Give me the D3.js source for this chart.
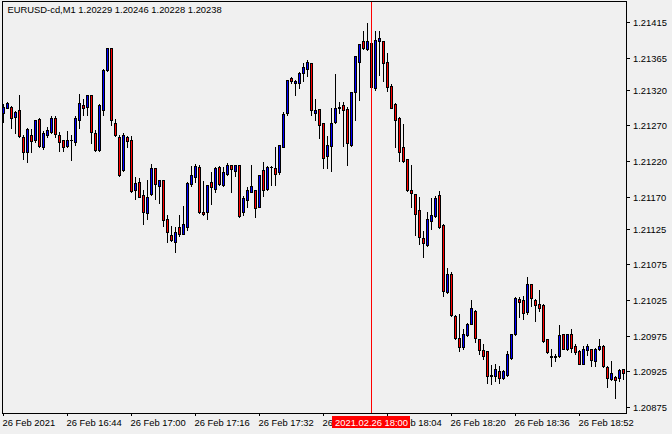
<!DOCTYPE html>
<html>
<head>
<meta charset="utf-8">
<script src="https://cdn.jsdelivr.net/npm/d3@7/dist/d3.min.js"></script>
<style>
  html, body { margin: 0; padding: 0; background: #f0f0f0; }
  svg { display: block; }
  text { font-family: Tahoma, "Liberation Sans", Arial, sans-serif; font-size: 9.4px; fill: #000; }
</style>
</head>
<body>
<svg id="chart" width="672" height="434"></svg>
<script>
// ---- data (EURUSD M1, 26 Feb 2021, 16:28 .. 19:03) ----
const open = [1.21287,1.21295,1.21296,1.21282,1.21291,1.21254,1.21232,1.21257,1.21249,1.21279,
1.21240,1.21257,1.21261,1.21281,1.21257,1.21249,1.21241,1.21249,1.21246,1.21277,
1.21299,1.21296,1.21313,1.21260,1.21236,1.21292,1.21347,1.21379,1.21274,1.21253,
1.21207,1.21254,1.21249,1.21180,1.21190,1.21172,1.21147,1.21174,1.21210,1.21185,
1.21194,1.21139,1.21116,1.21107,1.21128,1.21118,1.21128,1.21188,1.21197,1.21211,
1.21149,1.21148,1.21191,1.21181,1.21211,1.21186,1.21202,1.21214,1.21206,1.21215,
1.21149,1.21166,1.21177,1.21179,1.21156,1.21207,1.21181,1.21211,1.21210,1.21204,
1.21240,1.21287,1.21336,1.21329,1.21330,1.21343,1.21349,1.21358,1.21288,1.21293,
1.21274,1.21227,1.21241,1.21275,1.21294,1.21298,1.21293,1.21242,1.21317,1.21359,
1.21388,1.21377,1.21386,1.21322,1.21389,1.21388,1.21359,1.21325,1.21300,1.21280,
1.21240,1.21223,1.21179,1.21174,1.21152,1.21112,1.21102,1.21136,1.21143,1.21172,
1.21130,1.21037,1.21061,1.21003,1.20972,1.20959,1.20976,1.20992,1.21010,1.20971,
1.20955,1.20953,1.20918,1.20919,1.20926,1.20916,1.20920,1.20944,1.20977,1.21027,
1.21025,1.21008,1.21047,1.21025,1.21020,1.21018,1.20970,1.20946,1.20945,1.20946,
1.20977,1.20956,1.20978,1.20960,1.20954,1.20936,1.20955,1.20956,1.20940,1.20956,
1.20961,1.20931,1.20914,1.20917,1.20915,1.20928];
const high = [1.21300,1.21303,1.21297,1.21290,1.21313,1.21256,1.21266,1.21265,1.21277,1.21281,
1.21262,1.21268,1.21283,1.21283,1.21261,1.21250,1.21262,1.21257,1.21283,1.21314,
1.21307,1.21312,1.21313,1.21264,1.21300,1.21349,1.21378,1.21379,1.21279,1.21256,
1.21260,1.21255,1.21255,1.21197,1.21196,1.21179,1.21193,1.21216,1.21210,1.21193,
1.21194,1.21144,1.21129,1.21128,1.21145,1.21157,1.21190,1.21213,1.21216,1.21215,
1.21192,1.21187,1.21204,1.21211,1.21213,1.21211,1.21217,1.21214,1.21214,1.21215,
1.21171,1.21183,1.21215,1.21179,1.21201,1.21219,1.21213,1.21213,1.21239,1.21242,
1.21289,1.21333,1.21338,1.21334,1.21345,1.21358,1.21362,1.21358,1.21307,1.21293,
1.21274,1.21255,1.21294,1.21342,1.21303,1.21303,1.21296,1.21317,1.21368,1.21384,
1.21403,1.21413,1.21391,1.21402,1.21403,1.21388,1.21372,1.21328,1.21301,1.21282,
1.21272,1.21223,1.21214,1.21174,1.21170,1.21122,1.21149,1.21168,1.21171,1.21178,
1.21131,1.21070,1.21064,1.21004,1.21005,1.20985,1.20993,1.21025,1.21011,1.20971,
1.20963,1.20953,1.20934,1.20936,1.20932,1.20927,1.20953,1.20978,1.21029,1.21029,
1.21031,1.21058,1.21048,1.21027,1.21039,1.21019,1.20970,1.20957,1.20950,1.20990,
1.20978,1.20978,1.20985,1.20963,1.20955,1.20960,1.20964,1.20957,1.20958,1.20971,
1.20962,1.20932,1.20940,1.20918,1.20929,1.20929];
const low = [1.21275,1.21294,1.21267,1.21260,1.21254,1.21223,1.21218,1.21232,1.21246,1.21239,
1.21237,1.21253,1.21260,1.21253,1.21234,1.21234,1.21239,1.21221,1.21242,1.21267,
1.21285,1.21285,1.21245,1.21234,1.21234,1.21285,1.21346,1.21270,1.21255,1.21199,
1.21206,1.21239,1.21176,1.21167,1.21169,1.21132,1.21139,1.21173,1.21167,1.21161,
1.21129,1.21106,1.21108,1.21092,1.21115,1.21117,1.21123,1.21185,1.21190,1.21147,
1.21145,1.21138,1.21160,1.21176,1.21187,1.21185,1.21200,1.21177,1.21199,1.21142,
1.21145,1.21155,1.21176,1.21141,1.21155,1.21171,1.21180,1.21187,1.21187,1.21202,
1.21239,1.21285,1.21330,1.21313,1.21322,1.21332,1.21339,1.21285,1.21278,1.21252,
1.21210,1.21210,1.21206,1.21273,1.21288,1.21241,1.21214,1.21241,1.21277,1.21306,
1.21377,1.21376,1.21323,1.21320,1.21340,1.21332,1.21318,1.21294,1.21239,1.21220,
1.21219,1.21178,1.21156,1.21116,1.21103,1.21085,1.21101,1.21125,1.21141,1.21126,
1.21031,1.21035,1.21003,1.20971,1.20953,1.20956,1.20975,1.20991,1.20966,1.20950,
1.20943,1.20908,1.20907,1.20911,1.20908,1.20914,1.20919,1.20943,1.20976,1.21001,
1.20998,1.21006,1.21016,1.20996,1.21010,1.20966,1.20951,1.20932,1.20940,1.20945,
1.20956,1.20955,1.20952,1.20949,1.20935,1.20935,1.20948,1.20933,1.20933,1.20955,
1.20931,1.20903,1.20913,1.20888,1.20911,1.20914];
const close = [1.21296,1.21302,1.21280,1.21289,1.21255,1.21232,1.21265,1.21248,1.21277,1.21241,
1.21259,1.21263,1.21281,1.21258,1.21246,1.21239,1.21250,1.21250,1.21280,1.21302,
1.21294,1.21312,1.21261,1.21235,1.21298,1.21348,1.21378,1.21277,1.21257,1.21201,
1.21256,1.21248,1.21178,1.21189,1.21170,1.21149,1.21170,1.21210,1.21188,1.21193,
1.21137,1.21120,1.21109,1.21121,1.21117,1.21131,1.21189,1.21200,1.21213,1.21149,
1.21146,1.21187,1.21184,1.21210,1.21188,1.21204,1.21214,1.21209,1.21214,1.21143,
1.21168,1.21179,1.21185,1.21154,1.21201,1.21180,1.21212,1.21212,1.21202,1.21242,
1.21286,1.21333,1.21332,1.21332,1.21344,1.21352,1.21359,1.21292,1.21291,1.21271,
1.21224,1.21242,1.21274,1.21295,1.21296,1.21292,1.21245,1.21317,1.21368,1.21384,
1.21378,1.21388,1.21324,1.21390,1.21392,1.21358,1.21324,1.21295,1.21278,1.21233,
1.21220,1.21179,1.21175,1.21146,1.21114,1.21105,1.21138,1.21144,1.21168,1.21127,
1.21038,1.21061,1.21004,1.20972,1.20959,1.20978,1.20992,1.21014,1.20972,1.20955,
1.20947,1.20918,1.20920,1.20929,1.20915,1.20925,1.20949,1.20978,1.21028,1.21022,
1.21007,1.21047,1.21028,1.21018,1.21014,1.20968,1.20952,1.20945,1.20947,1.20976,
1.20957,1.20977,1.20958,1.20952,1.20936,1.20957,1.20960,1.20941,1.20957,1.20961,
1.20932,1.20915,1.20922,1.20913,1.20927,1.20922];

const priceTicks = [1.21415,1.21365,1.21320,1.21270,1.21220,1.21170,1.21125,1.21075,1.21025,1.20975,1.20925,1.20875];
const timeTickIndex = [0,16,32,48,64,80,96,112,128,144];
const timeTickLabels = ["26 Feb 2021","26 Feb 16:44","26 Feb 17:00","26 Feb 17:16","26 Feb 17:32",
                        "26 Feb 17:48","26 Feb 18:04","26 Feb 18:20","26 Feb 18:36","26 Feb 18:52"];
const crosshairIndex = 92;
const crosshairLabel = "2021.02.26 18:00";
const titleText = "EURUSD-cd,M1  1.20229 1.20246 1.20228 1.20238";

// ---- layout ----
const svg = d3.select("#chart");
const W = 672, H = 434;
const plotLeft = 2, plotTop = 1, plotRight = 626, plotBottom = 413;

svg.append("rect").attr("width", W).attr("height", H).attr("fill", "#f0f0f0");

// x: bar index -> pixel column of bar centre
const x = d3.scaleLinear().domain([0, 155]).range([3, 623]);
// y: price -> pixel row
const y = d3.scaleLinear().domain([1.20875, 1.21415]).rangeRound([407, 22]);

const bars = open.map((o, i) => ({ i, o, h: high[i], l: low[i], c: close[i] }));

const g = svg.append("g");

// wicks
g.selectAll("line.wick").data(bars).enter().append("line")
  .attr("class", "wick")
  .attr("x1", d => x(d.i) + 0.5).attr("x2", d => x(d.i) + 0.5)
  .attr("y1", d => y(d.h)).attr("y2", d => y(d.l) + 1)
  .attr("stroke", "#000").attr("stroke-width", 1)
  .attr("shape-rendering", "crispEdges");

// bodies
bars.forEach(d => {
  const top = y(Math.max(d.o, d.c));
  const bot = y(Math.min(d.o, d.c));
  const col = d.c > d.o ? "#0000ff" : "#ff0000";
  const cx = x(d.i);
  if (bot - top >= 1) {
    g.append("rect")
      .attr("x", cx - 0.5).attr("y", top + 0.5)
      .attr("width", 2).attr("height", bot - top)
      .attr("fill", col).attr("stroke", "#000").attr("stroke-width", 1);
  } else {
    g.append("line")
      .attr("x1", cx - 1).attr("x2", cx + 2)
      .attr("y1", top + 0.5).attr("y2", top + 0.5)
      .attr("stroke", "#000").attr("stroke-width", 1);
  }
});

// frame
svg.append("rect")
  .attr("x", plotLeft + 0.5).attr("y", plotTop + 0.5)
  .attr("width", plotRight - plotLeft).attr("height", plotBottom - plotTop)
  .attr("fill", "none").attr("stroke", "#000").attr("stroke-width", 1);

// right price axis
const yAxis = d3.axisRight(y)
  .tickValues(priceTicks)
  .tickFormat(d3.format(".5f"))
  .tickSize(4).tickPadding(3).offset(0.5);
const ya = svg.append("g").attr("transform", `translate(${plotRight},0)`).call(yAxis);
ya.select(".domain").remove();
ya.selectAll("line").attr("stroke", "#000");
ya.selectAll("text").attr("font-family", null).attr("font-size", null).attr("fill", "#000");

// bottom time axis
const xAxis = d3.axisBottom(x)
  .tickValues(timeTickIndex)
  .tickFormat((d, i) => timeTickLabels[i])
  .tickSize(3).offset(0.5);
const xa = svg.append("g").attr("transform", `translate(0,${plotBottom})`).call(xAxis);
xa.select(".domain").remove();
xa.selectAll("line").attr("stroke", "#000");
xa.selectAll("text")
  .attr("font-family", null).attr("font-size", null).attr("fill", "#000")
  .attr("text-anchor", "start").attr("x", -1).attr("y", 13).attr("dy", null);

// crosshair
const chx = x(crosshairIndex) + 0.5;
svg.append("line")
  .attr("x1", chx).attr("x2", chx)
  .attr("y1", plotTop + 1).attr("y2", plotBottom)
  .attr("stroke", "#ff0000").attr("stroke-width", 1);
svg.append("rect")
  .attr("x", chx - 39.5).attr("y", 416)
  .attr("width", 78).attr("height", 12)
  .attr("fill", "#ff0000");
svg.append("text")
  .attr("x", chx).attr("y", 426)
  .attr("text-anchor", "middle")
  .style("fill", "#fff")
  .text(crosshairLabel);

// title
svg.append("text").attr("x", 7.5).attr("y", 13).text(titleText);
</script>
</body>
</html>
